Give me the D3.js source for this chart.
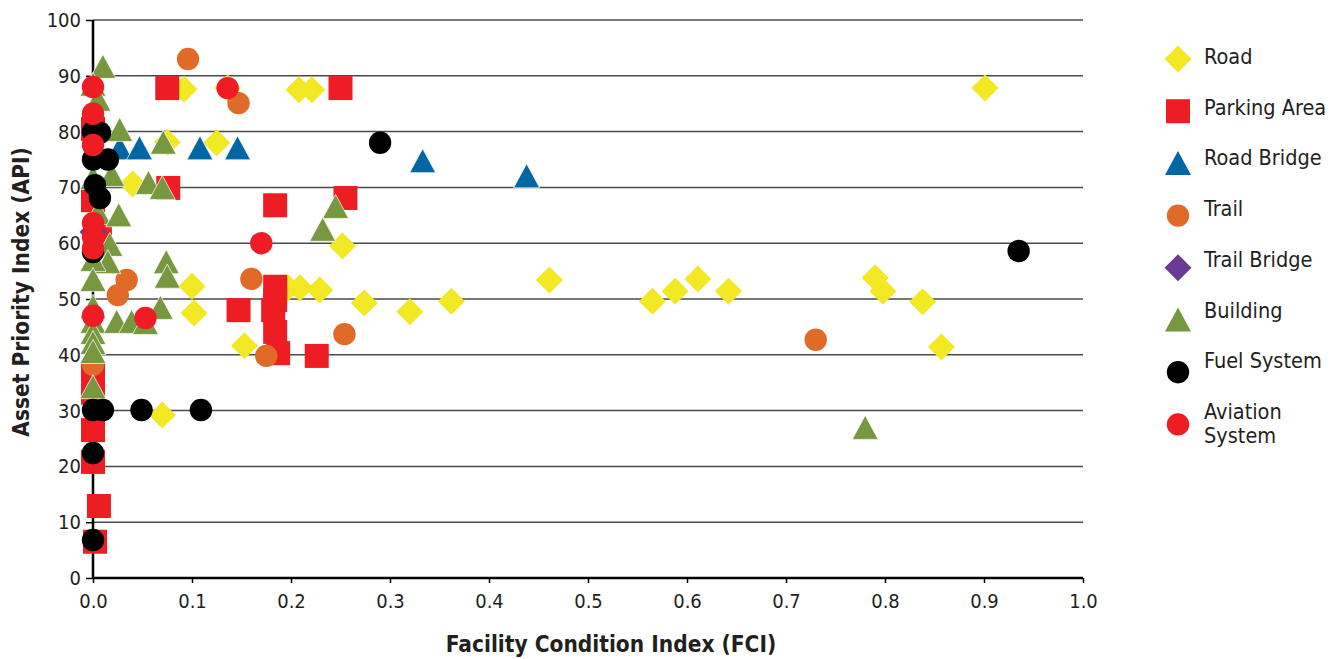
<!DOCTYPE html>
<html>
<head>
<meta charset="utf-8">
<script src="https://cdn.jsdelivr.net/npm/d3@7"></script>
<style>
html,body{margin:0;padding:0;background:#fff;}
svg text{font-family:"Liberation Sans Narrow","DejaVu Sans Condensed","Roboto Condensed",sans-serif;fill:#231f20;}
</style>
</head>
<body>
<svg id="chart" width="1338" height="659"></svg>
<script>
// ---- data (FCI, API) ----
const road = [[0.092,87.6],[0.136,87.8],[0.208,87.5],[0.221,87.5],[0.901,87.8],[0.075,78.1],[0.125,78],[0.04,70.6],
  [0.1,52.3],[0.102,47.5],[0.153,41.6],[0.07,29.2],[0.197,52],[0.209,52],[0.229,51.6],[0.252,59.5],[0.274,49.3],
  [0.32,47.7],[0.362,49.6],[0.461,53.4],[0.565,49.6],[0.588,51.4],[0.611,53.6],[0.642,51.4],[0.79,53.8],[0.798,51.4],
  [0.838,49.5],[0.857,41.4]];
const parkingArea = [[0.075,87.8],[0.25,87.8],[0.0,80.5],[0.076,69.9],[0.0,67.7],[0.007,62],[0.255,68.1],[0.184,66.8],
  [0.147,48],[0.184,52.2],[0.184,49.8],[0.182,48],[0.184,44.1],[0.187,40.3],[0.226,39.8],[0.0,36.4],[0.0,33.2],
  [0.0,26.5],[0.0,20.8],[0.006,12.9],[0.002,6.5]];
const roadBridge = [[0.027,77],[0.047,77],[0.108,77],[0.146,77],[0.333,74.7],[0.438,72]];
const trail = [[0.096,93],[0.147,85.1],[0.034,53.4],[0.025,50.7],[0.16,53.6],[0.175,39.8],[0.254,43.7],[0.0,38.2],[0.73,42.7]];
const trailBridge = [[0.0,62]];
const building = [[0.01,91.6],[0.0,88.4],[0.005,85.7],[0.027,80.3],[0.019,72.2],[0.071,78],[0.056,70.8],[0.07,69.9],
  [0.0,71.7],[0.005,65.4],[0.026,65],[0.017,59.7],[0.015,56.6],[0.0,57],[0.0,53.4],[0.074,56.6],[0.075,54],
  [0.0,48.6],[0.0,45.9],[0.0,43.9],[0.0,42.1],[0.0,40.5],[0.0,34.2],[0.024,45.9],[0.039,45.9],[0.053,45.7],
  [0.068,48.4],[0.245,66.5],[0.232,62.4],[0.78,26.9]];
const fuelSystem = [[0.29,78],[0.935,58.6],[0.0,80],[0.007,79.8],[0.0,75],[0.015,75],[0.002,70.4],[0.007,68.1],
  [0.0,58.4],[0.0,30.1],[0.01,30.1],[0.049,30.1],[0.109,30.1],[0.0,22.4],[0.0,6.8]];
const aviationSystem = [[0.0,88],[0.136,87.8],[0.0,83.2],[0.0,77.6],[0.0,63.6],[0.0,61.1],[0.0,59.1],[0.17,60],[0.0,47],[0.053,46.6]];

const seriesNames = ["Road","Parking Area","Road Bridge","Trail","Trail Bridge","Building","Fuel System","Aviation System"];
const seriesData = [road, parkingArea, roadBridge, trail, trailBridge, building, fuelSystem, aviationSystem];
const seriesShapes = ["diamond","square","triangle","circle","diamond","triangle","circle","circle"];
const seriesColors = ["#f2e824","#ee1d23","#0066a4","#e06b28","#6b3a95","#77983f","#000000","#ee1d23"];
const yTicks = [0,10,20,30,40,50,60,70,80,90,100];
const xTicks = [0,0.1,0.2,0.3,0.4,0.5,0.6,0.7,0.8,0.9,1.0];

// ---- layout ----
const svg = d3.select("#chart");
const x = d3.scaleLinear().domain([0,1]).range([93,1083]);
const y = d3.scaleLinear().domain([0,100]).range([578,20]);
const FONT = '"Liberation Sans Narrow","DejaVu Sans Condensed",sans-serif';

function shapePath(shape){
  switch(shape){
    case "diamond": return "M0,-13.5L13.5,0L0,13.5L-13.5,0Z";
    case "square": return "M-12,-12H12V12H-12Z";
    case "triangle": return "M0,-12.5L13,11.5L-13,11.5Z";
    default: { const p = d3.path(); p.arc(0,0,11.2,0,2*Math.PI); p.closePath(); return p.toString(); }
  }
}

// gridlines
svg.append("g").selectAll("line").data(yTicks.filter(d=>d>0)).join("line")
  .attr("x1",x(0)).attr("x2",x(1)).attr("y1",d=>y(d)).attr("y2",d=>y(d))
  .attr("stroke","#4a4a4a").attr("stroke-width",1.5);

// axes
const yAxis = svg.append("g").attr("transform",`translate(${x(0)},0)`)
  .call(d3.axisLeft(y).tickValues(yTicks).tickSize(7).tickPadding(5).tickFormat(d3.format("d")));
const xAxis = svg.append("g").attr("transform",`translate(0,${y(0)})`)
  .call(d3.axisBottom(x).tickValues(xTicks).tickSize(5).tickPadding(11).tickFormat(d3.format(".1f")));
[yAxis,xAxis].forEach(a=>{
  a.select(".domain").attr("stroke","#000").attr("stroke-width",2.5);
  a.selectAll(".tick line").attr("stroke","#000").attr("stroke-width",1.5);
  a.selectAll(".tick text").attr("font-size",20).attr("fill","#231f20").style("font-family",FONT);
});
yAxis.select(".domain").attr("d",`M0,${y(100)}V${y(0)}`);
xAxis.select(".domain").attr("d",`M${x(0)},0H${x(1)}`);

// markers
seriesData.forEach((data,i)=>{
  svg.append("g").selectAll("path").data(data).join("path")
    .attr("d",shapePath(seriesShapes[i]))
    .attr("transform",d=>`translate(${x(d[0])},${y(d[1])})`)
    .attr("fill",seriesColors[i])
    .attr("stroke",seriesShapes[i]==="triangle"?"#ffffff":"none")
    .attr("stroke-width",0.7);
});

// axis titles
svg.append("text").attr("x",611).attr("y",652).attr("text-anchor","middle")
  .attr("font-size",22.5).attr("font-weight","bold").text("Facility Condition Index (FCI)");
svg.append("text").attr("transform","translate(29,292) rotate(-90)").attr("text-anchor","middle")
  .attr("font-size",22.5).attr("font-weight","bold").text("Asset Priority Index (API)");

// legend
const leg = svg.append("g");
seriesNames.forEach((name,i)=>{
  const sy = 59 + i*52.2;
  const ty = 57 + i*50.7;
  const g = leg.append("g");
  g.append("path").attr("d",shapePath(seriesShapes[i])).attr("transform",`translate(1178,${sy})`)
   .attr("fill",seriesColors[i]);
  const t = g.append("text").attr("x",1204).attr("font-size",21.5);
  if(name==="Aviation System"){
    t.append("tspan").attr("x",1204).attr("y",ty+7).text("Aviation");
    t.append("tspan").attr("x",1204).attr("y",ty+31).text("System");
  } else {
    t.attr("y",ty+7).text(name);
  }
});
</script>
</body>
</html>
